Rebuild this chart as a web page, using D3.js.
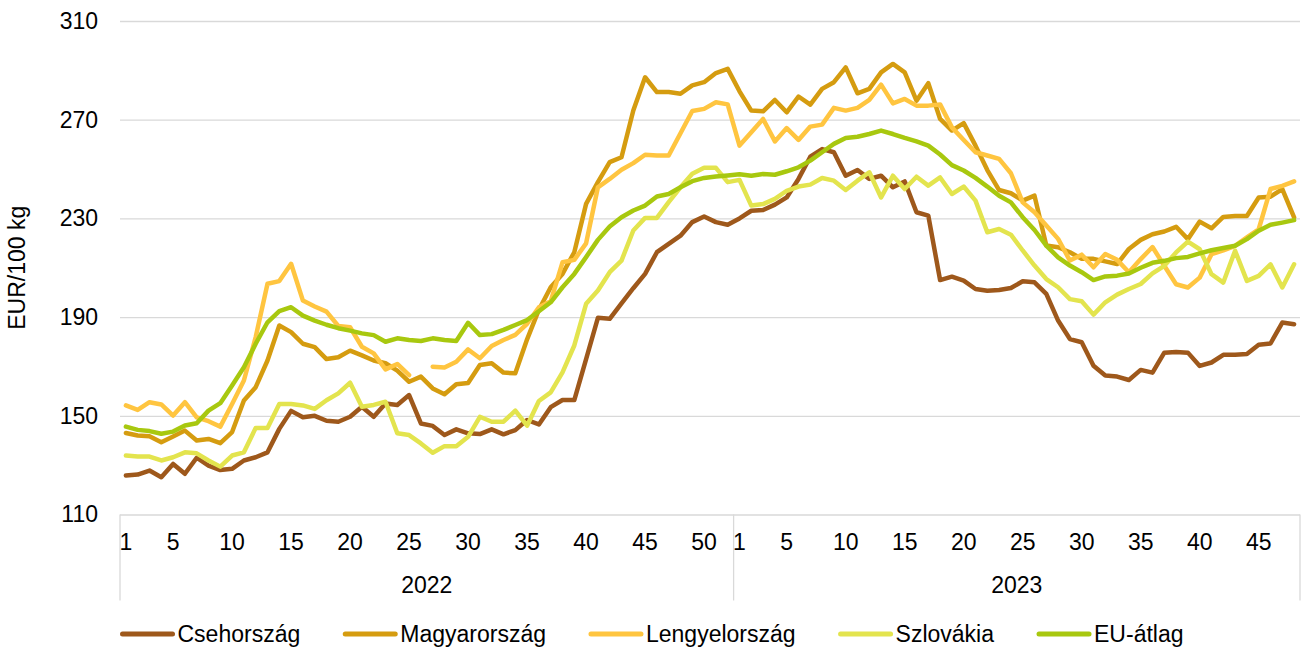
<!DOCTYPE html>
<html>
<head>
<meta charset="utf-8">
<script src="https://cdn.jsdelivr.net/npm/d3@7"></script>
<style>
  body { margin: 0; background: #fff; }
  text { font-family: "Liberation Sans", Arial, sans-serif; fill: #000; }
</style>
</head>
<body>
<script>
// categories: weeks per year
const years = ["2022", "2023"];
const weeksPerYear = [52, 48];
const labelWeeks = [1, 5, 10, 15, 20, 25, 30, 35, 40, 45, 50];
const yTicks = [110, 150, 190, 230, 270, 310];

// EUR/100 kg, 2022 w1..w52 then 2023 w1..w48
const cseh = [125.8, 126.2, 127.8, 125.1, 130.5, 126.5, 133, 129.8, 128, 128.5,
  131.9, 133.2, 135.2, 144.7, 152, 149.4, 150, 148, 147.6, 149.6,
  153.7, 149.6, 155, 154.4, 158.4, 146.9, 145.9, 142.2, 144.5, 142.9,
  142.6, 144.5, 142.5, 144.2, 148.3, 146.5, 153.5, 156.4, 156.4, 173,
  189.7, 189.3, 195.6, 201.7, 207.5, 216.3, 219.7, 223, 228.5, 230.8, 228.5, 227.4,
  230, 233.1, 233.4, 235.6, 238.5, 246, 255, 258.1, 256.8, 247.3,
  249.6, 246, 247.3, 242.6, 245, 232.5, 231.1, 205, 206.4, 204.8,
  201.4, 200.7, 201, 201.8, 204.5, 204.1, 199.4, 188.6, 181.1, 179.8,
  170.3, 166.3, 165.9, 164.5, 168.6, 167.5, 175.6, 175.9, 175.6, 170.2,
  171.6, 174.7, 174.7, 175, 178.8, 179.3, 187.8, 187.1];

const magyar = [143, 142, 141.7, 139.3, 141.6, 144, 140, 140.6, 138.9, 143.4,
  156.2, 161.6, 172.4, 186.6, 183.9, 179.2, 177.8, 173, 173.7, 176.4,
  174.5, 172.4, 171.3, 168.3, 163.8, 165.9, 161.1, 158.7, 162.8, 163.3,
  170.6, 171.3, 167.5, 167.2, 181, 193, 202.1, 207.5, 216.3, 235.9,
  244.7, 252.8, 254.8, 273.7, 287.2, 281.2, 281.2, 280.5, 283.9, 285.2, 288.9, 290.6,
  281.5, 273.7, 273.4, 278, 273, 279.4, 276.1, 282.5, 285.2, 291.2,
  280.7, 282.5, 289.2, 292.6, 289.2, 277.7, 284.8, 270.3, 265.6, 268.6,
  259.5, 249.6, 241.5, 240.2, 237.2, 239.2, 219, 218.3, 216.3, 213.6,
  213.6, 212.6, 211.5, 217.6, 221.3, 223.6, 224.7, 226.6, 221.6, 228.7,
  226, 230.6, 231, 231, 238.5, 238.8, 241.9, 230.4];

const lengyel = [154.2, 152.4, 155.5, 154.6, 150.1, 155.5, 149.4, 147.8, 145.6, 154.8,
  164.3, 181.9, 203.5, 204.6, 211.6, 196.7, 194.3, 192.2, 186.4, 185.9,
  178, 175.3, 168.8, 171, 166.5, null, 169.9, 169.6, 171.9, 176.9,
  173.3, 178.3, 180.7, 182.8, 187.3, 194, 196.4, 212.2, 213.2, 219.9,
  242.6, 246, 249.7, 252.4, 255.8, 255.5, 255.5, 264.5, 273.5, 274.4, 277.1, 276.2,
  259.5, 264.9, 270.3, 261.2, 266.6, 261.8, 267.2, 268, 274.8, 273.7,
  274.8, 278, 284.2, 276.6, 278.4, 275.7, 275.7, 276.2, 266.9, 261.8,
  256.8, 255.5, 254.1, 248.3, 236.5, 232.5, 227.1, 221.7, 212.9, 215.3,
  210.2, 215.6, 213.2, 208.2, 213.5, 218.4, 210.8, 203.3, 202, 206,
  215.5, 217, 218.9, 222.3, 225.6, 241.9, 243.2, 245];

const szlovakia = [133.9, 133.5, 133.5, 131.9, 133.2, 135.2, 134.8, 131.9, 129.4, 133.9,
  135.2, 145.1, 145.1, 154.8, 154.8, 154.2, 152.8, 156.3, 159.1, 163.4,
  153.7, 154.4, 155.7, 142.9, 142.2, 138.8, 135, 137.7, 137.7, 141.5,
  149.6, 147.6, 147.6, 152.1, 146, 156, 159.5, 167.6, 178.5, 195.4,
  200.8, 208.2, 212.9, 225.1, 230.2, 230.2, 236.6, 242.6, 248.1, 250.5, 250.5, 244.7,
  245.6, 235.2, 235.8, 237.9, 241.2, 242.9, 243.7, 246.4, 245.3, 241.5,
  245.3, 248.7, 238.5, 247.3, 241.9, 246.9, 243.3, 246.6, 239.9, 242.9,
  237.2, 224.4, 225.7, 223.4, 217, 210.9, 205.4, 202.1, 197.3, 196.4,
  191, 196, 199.1, 201.4, 203.4, 207.7, 210.8, 216.2, 220.6, 217.5,
  207.4, 204, 216.9, 204.7, 206.7, 211.4, 202, 211.4];

const euAtlag = [145.6, 144.3, 143.8, 142.7, 143.6, 146.1, 147, 152.1, 155.1, 162.3,
  169.7, 179.2, 187.9, 192.4, 194, 190.6, 188.6, 186.9, 185.5, 184.5,
  183.4, 182.7, 180, 181.4, 180.7, 180.3, 181.4, 180.7, 180.3, 187.7,
  182.7, 183.1, 184.8, 186.8, 188.8, 192.4, 196, 202.1, 207.5, 214.3,
  221.3, 226.7, 230.5, 233.2, 235.2, 238.9, 239.9, 242.6, 245.1, 246.4, 247, 247.4,
  247.9, 247.3, 248, 247.7, 249.1, 250.7, 253.4, 256.8, 260.2, 262.6,
  263.1, 264.2, 265.6, 264.2, 262.6, 261.2, 259.5, 255.9, 251.6, 249.4,
  246.4, 242.9, 239.2, 236.5, 230.5, 225.3, 219, 214.2, 210.9, 208.2,
  205, 206.5, 206.8, 207.7, 210, 212, 212.8, 213.9, 214.4, 215.8,
  217.1, 218, 218.9, 221.6, 225, 227.4, 228.3, 229.3];

const seriesNames = ["Csehország", "Magyarország", "Lengyelország", "Szlovákia", "EU-átlag"];
const seriesValues = [cseh, magyar, lengyel, szlovakia, euAtlag];
const colors = ["#9e581b", "#d59c10", "#ffc540", "#e3e44e", "#a8c80f"];

const W = 1303, H = 647;
const margin = { left: 120, right: 3, top: 21, bottom: 132.5 };
const fontSize = 23;

// category list
const cats = [];
years.forEach((yr, i) => {
  for (let w = 1; w <= weeksPerYear[i]; w++) cats.push({ year: yr, week: w, key: yr + "-" + w });
});

const svg = d3.select("body").append("svg")
  .attr("width", W)
  .attr("height", H);

const x = d3.scaleBand()
  .domain(cats.map(d => d.key))
  .range([margin.left, W - margin.right])
  .padding(0);
const y = d3.scaleLinear()
  .domain([110, 310])
  .range([H - margin.bottom, margin.top]);

const cx = key => x(key) + x.bandwidth() / 2;
const gridColor = "#d9d9d9";

// gridlines + y labels
const yAxis = svg.append("g")
  .attr("transform", "translate(" + margin.left + ",0)")
  .call(d3.axisLeft(y).tickValues(yTicks).tickSize(-(W - margin.left - margin.right)).tickPadding(22));
yAxis.select(".domain").remove();
yAxis.selectAll("line").attr("stroke", gridColor).attr("stroke-width", 1.3);
yAxis.selectAll("text").style("font-size", fontSize + "px").attr("fill", "#000");

// y title
svg.append("text")
  .attr("transform", "translate(25," + (y(210)) + ") rotate(-90)")
  .attr("text-anchor", "middle")
  .style("font-size", fontSize + "px")
  .text("EUR/100 kg");

// category axis: separators
const y0 = y(110);
const sepX = years.map(yr => x(yr + "-1")).concat([W - margin.right]);
svg.selectAll(".sep").data(sepX).enter().append("line")
  .attr("x1", d => d).attr("x2", d => d)
  .attr("y1", y0).attr("y2", y0 + 86)
  .attr("stroke", gridColor).attr("stroke-width", 1.3);

// week labels
svg.selectAll(".wk").data(cats.filter(d => labelWeeks.includes(d.week))).enter().append("text")
  .attr("x", d => cx(d.key))
  .attr("y", y0 + 35)
  .attr("text-anchor", "middle")
  .style("font-size", fontSize + "px")
  .text(d => d.week);

// year labels
svg.selectAll(".yr").data(years).enter().append("text")
  .attr("x", (d, i) => (sepX[i] + sepX[i + 1]) / 2)
  .attr("y", y0 + 78)
  .attr("text-anchor", "middle")
  .style("font-size", fontSize + "px")
  .text(d => d);

// lines
const line = d3.line()
  .defined(d => d.v != null)
  .x(d => cx(d.key))
  .y(d => y(d.v));

seriesValues.forEach((vals, i) => {
  svg.append("path")
    .datum(cats.map((c, j) => ({ key: c.key, v: vals[j] })))
    .attr("d", line)
    .attr("fill", "none")
    .attr("stroke", colors[i])
    .attr("stroke-width", 4.5)
    .attr("stroke-linejoin", "round")
    .attr("stroke-linecap", "round");
});

// legend (centered)
const legend = svg.append("g");
const items = legend.selectAll("g").data(seriesNames).enter().append("g");
items.append("line")
  .attr("x1", 3).attr("x2", 53)
  .attr("y1", 0).attr("y2", 0)
  .attr("stroke", (d, i) => colors[i])
  .attr("stroke-width", 5)
  .attr("stroke-linecap", "round");
items.append("text")
  .attr("x", 58)
  .attr("y", 8)
  .style("font-size", fontSize + "px")
  .text(d => d);
let offs = 0;
const gap = 42;
items.each(function () {
  const w = 58 + d3.select(this).select("text").node().getComputedTextLength();
  d3.select(this).attr("transform", "translate(" + offs + ",0)");
  offs += w + gap;
});
const total = offs - gap;
legend.attr("transform", "translate(" + ((W - total) / 2) + ",634)");
</script>
</body>
</html>
